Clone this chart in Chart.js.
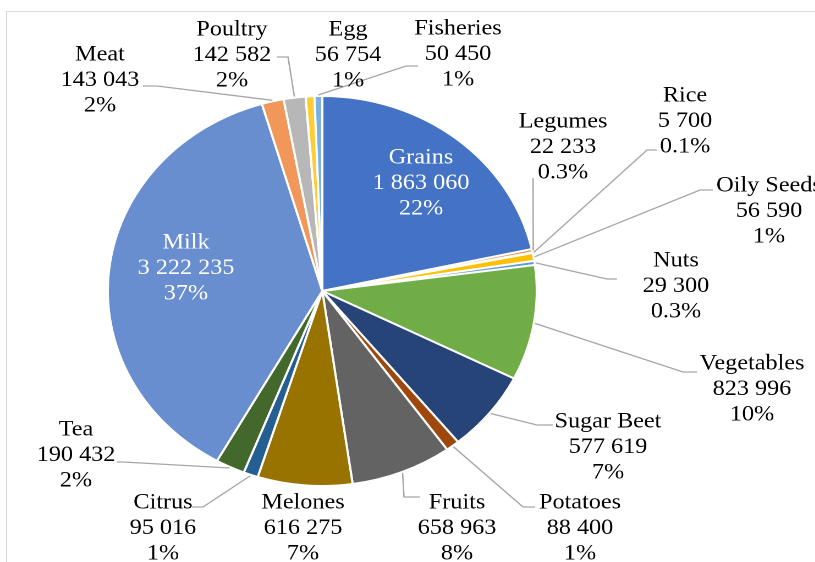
<!DOCTYPE html>
<html>
<head>
<meta charset="utf-8">
<script src="https://cdn.jsdelivr.net/npm/chart.js@4/dist/chart.umd.min.js"></script>
<style>
  html, body { margin: 0; padding: 0; background: #fff; overflow: hidden; }
  #frame {
    position: absolute; left: 6px; top: 11px; width: 900px; height: 700px;
    border-left: 1px solid #d9d9d9; border-top: 1px solid #d9d9d9;
  }
  /* the source picture is stretched sideways by about 10% */
  #wrap {
    position: absolute; left: 0; top: 0; width: 741px; height: 562px;
    transform: scaleX(1.1); transform-origin: 0 0;
  }
</style>
</head>
<body>
<div id="frame"></div>
<div id="wrap"><canvas id="chart"></canvas></div>
<script>
const SX = 1.1;
const FONT = '22px "Liberation Serif"';

const categories = ["Grains", "Legumes", "Rice", "Oily Seeds", "Nuts", "Vegetables", "Sugar Beet",
  "Potatoes", "Fruits", "Melones", "Citrus", "Tea", "Milk", "Meat", "Poultry", "Egg", "Fisheries"];
const values = [1863060, 22233, 5700, 56590, 29300, 823996, 577619,
  88400, 658963, 616275, 95016, 190432, 3222235, 143043, 142582, 56754, 50450];
const colors = ["#4472C4", "#ED7D31", "#A5A5A5", "#FFC000", "#5B9BD5", "#70AD47", "#264478",
  "#9E480E", "#636363", "#997300", "#255E91", "#43682B", "#698ED0", "#F1975A", "#B7B7B7", "#FFCD33", "#7CAFDD"];

// label placement, in picture pixels: centre of the middle line, and leader elbow/end
const labelLayout = {
  "Grains":     {x: 421, y: 183, inside: true},
  "Legumes":    {x: 563, y: 147, elbow: [533, 178], end: [533, 178]},
  "Rice":       {x: 685, y: 121, elbow: [647, 150], end: [657, 150]},
  "Oily Seeds": {x: 769, y: 211, elbow: [700, 190], end: [713, 190]},
  "Nuts":       {x: 676, y: 286, elbow: [607, 279], end: [617, 279]},
  "Vegetables": {x: 752, y: 389, elbow: [683, 372], end: [697, 372]},
  "Sugar Beet": {x: 608, y: 447, elbow: [537, 425], end: [553, 425]},
  "Potatoes":   {x: 580, y: 528, elbow: [523, 507], end: [535, 507]},
  "Fruits":     {x: 457, y: 528, elbow: [404, 497], end: [420, 497]},
  "Melones":    {x: 303, y: 528},
  "Citrus":     {x: 163, y: 528, elbow: [203, 507], end: [192, 507]},
  "Tea":        {x: 76,  y: 455, elbow: [123, 462], end: [117, 462]},
  "Milk":       {x: 186, y: 268, inside: true},
  "Meat":       {x: 100, y: 80,  elbow: [157, 86], end: [143, 86]},
  "Poultry":    {x: 232, y: 55,  elbow: [288, 57], end: [277, 57]},
  "Egg":        {x: 348, y: 55},
  "Fisheries":  {x: 458, y: 54,  elbow: [406, 66], end: [418, 66]}
};

const total = values.reduce((a, b) => a + b, 0);

function fmtNum(v){
  return String(v).replace(/\B(?=(\d{3})+(?!\d))/g, " ");
}
function fmtPct(v){
  const p = v / total * 100;
  return p < 0.5 ? p.toFixed(1) + "%" : Math.round(p) + "%";
}

const labelsPlugin = {
  id: "pieLabels",
  afterDatasetsDraw(chart){
    const ctx = chart.ctx;
    const arcs = chart.getDatasetMeta(0).data;
    ctx.save();
    // leader lines first
    ctx.strokeStyle = "#a6a6a6";
    ctx.lineWidth = 1.3;
    arcs.forEach((arc, i) => {
      const lay = labelLayout[categories[i]];
      if(!lay.end) return;
      const mid = (arc.startAngle + arc.endAngle) / 2;
      const r = arc.outerRadius + 1;
      ctx.beginPath();
      ctx.moveTo(arc.x + Math.cos(mid) * r, arc.y + Math.sin(mid) * r);
      ctx.lineTo(lay.elbow[0] / SX, lay.elbow[1]);
      ctx.lineTo(lay.end[0] / SX, lay.end[1]);
      ctx.stroke();
    });
    ctx.font = FONT;
    ctx.textAlign = "center";
    ctx.textBaseline = "middle";
    const lh = 25.5;
    arcs.forEach((arc, i) => {
      const lay = labelLayout[categories[i]];
      ctx.fillStyle = lay.inside ? "#ffffff" : "#000000";
      const lines = [categories[i], fmtNum(values[i]), fmtPct(values[i])];
      lines.forEach((t, k) => ctx.fillText(t, lay.x / SX, lay.y + (k - 1) * lh));
    });
    ctx.restore();
  }
};

new Chart(document.getElementById("chart"), {
  type: "pie",
  data: {
    labels: categories,
    datasets: [{
      data: values,
      backgroundColor: colors,
      borderColor: "#ffffff",
      borderWidth: 2
    }]
  },
  options: {
    responsive: true,
    maintainAspectRatio: false,
    animation: false,
    devicePixelRatio: 2,
    events: [],
    layout: {
      padding: {left: 97, top: 95, right: 252, bottom: 75}
    },
    plugins: {
      legend: {display: false},
      tooltip: {enabled: false}
    }
  },
  plugins: [labelsPlugin]
});
</script>
</body>
</html>
